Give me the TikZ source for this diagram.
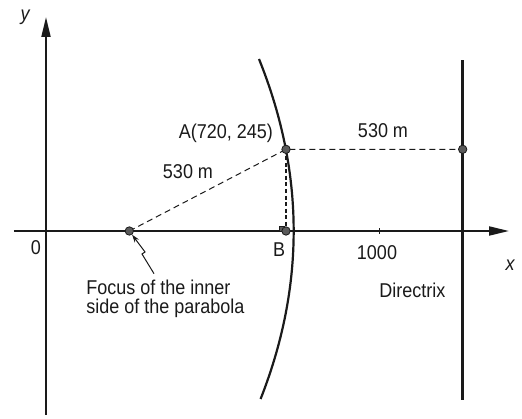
\documentclass[tikz,border=0pt]{standalone}
\usepackage{fontspec}
\setmainfont{Liberation Sans}[FakeStretch=0.9]
\usepackage{tikz}
\usetikzlibrary{arrows.meta}
\definecolor{inkc}{HTML}{1A1A1A}
\definecolor{dotc}{HTML}{5A5A5A}
\tikzset{
  ax/.style={-{Triangle[length=10pt,width=4.5pt]},line width=1pt,inkc},
  curve/.style={line width=1.1pt,inkc},
  guide/.style={dash pattern=on 3pt off 2pt,line width=0.5pt,inkc},
  ptdot/.style={circle,draw=inkc,fill=dotc,line width=0.4pt,inner sep=0pt,minimum size=4.2pt},
  lbl/.style={font=\fontsize{10}{9.6}\selectfont,text=inkc,inner sep=1pt}
}
\begin{document}
\begin{tikzpicture}[x=0.1667pt,y=0.1667pt]
\useasboundingbox (-138,-564) rectangle (1428,693);
% axes
\draw[ax] (-96,0)--(1389,0);
\draw[ax] (0,-552)--(0,642);
\draw[inkc,line width=0.6pt] (1000,-9)--(1000,9);
% parabola and directrix
\draw[curve,domain=-504:516,samples=60,smooth,variable=\t] plot ({743-0.977*(\t/50)*(\t/50)},{\t});
\draw[inkc,line width=1.3pt] (1250,-507)--(1250,513);
% points
\coordinate (Fc) at (250,0); \coordinate (Ac) at (720,245);
\coordinate (Bc) at (720,0); \coordinate (Dc) at (1250,245);
\draw[guide] (Fc)--(Ac)--(Dc);
\draw[inkc,dash pattern=on 2pt off 1.3pt,line width=0.6pt] (Ac)--(Bc);
\draw[inkc,fill=dotc,line width=0.3pt] (700,0) rectangle (715,15);
\node[ptdot] (F) at (Fc) {};
\node[ptdot] (A) at (Ac) {};
\node[ptdot] (B) at (Bc) {};
\node[ptdot] (D) at (Dc) {};
% labels
\node[lbl] (ylab) at (-63,642) {\itshape y};
\node[lbl] (xlab) at (1392,-102) {\itshape x};
\node[lbl] (orig) at (-30,-51) {0};
\node[lbl] (blab) at (699,-57) {B};
\node[lbl] (tlab) at (993,-64) {1000};
\node[lbl] (alab) at (540,294) {A(720, 245)};
\node[lbl] (dtop) at (1011,300) {530 m};
\node[lbl] (dleft) at (426,177) {530 m};
\node[lbl,anchor=east] (dirlab) at (1205,-177) {Directrix};
\node[lbl,align=left,anchor=north west] (flab) at (114,-140) {Focus of the inner\\side of the parabola};
\coordinate (ptail) at (324,-128);
\draw[inkc,line width=0.5pt,-{Stealth[length=4pt,width=2.6pt]}] (ptail)--(288,-69)--(297,-63)--(F);
\end{tikzpicture}
\end{document}
